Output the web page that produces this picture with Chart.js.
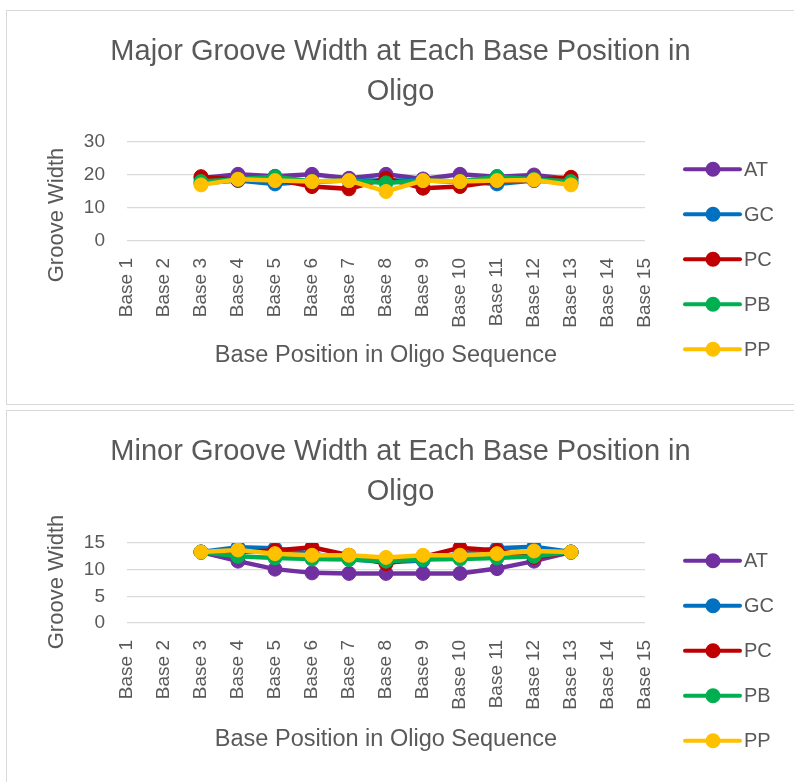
<!DOCTYPE html>
<html>
<head>
<meta charset="utf-8">
<script src="https://cdn.jsdelivr.net/npm/chart.js@4/dist/chart.umd.min.js"></script>
<style>
  html, body { margin: 0; padding: 0; background: #fff; }
  body { width: 794px; height: 782px; position: relative; overflow: hidden; }
  canvas { position: absolute; left: 0; }
  #c1 { top: 0; }
  #c2 { top: 405px; }
  .box { position: absolute; left: 6px; width: 800px; border: 1.5px solid #d9d9d9; box-sizing: border-box; pointer-events: none; }
  #b1 { top: 10px; height: 395px; }
  #b2 { top: 410px; height: 400px; }
</style>
</head>
<body>
<canvas id="c1" width="794" height="405"></canvas>
<canvas id="c2" width="794" height="377"></canvas>
<div class="box" id="b1"></div>
<div class="box" id="b2"></div>
<script>
const labels = ["Base 1", "Base 2", "Base 3", "Base 4", "Base 5", "Base 6", "Base 7", "Base 8",
  "Base 9", "Base 10", "Base 11", "Base 12", "Base 13", "Base 14", "Base 15"];
const seriesNames = ["AT", "GC", "PC", "PB", "PP"];
const seriesColors = ["#7030A0", "#0070C0", "#C00000", "#00B050", "#FFC000"];

// major groove width
const majorAT = [null, null, 19.0, 20.2, 19.6, 20.2, 19.0, 20.2, 18.8, 20.2, 19.5, 20.0, 18.8, null, null];
const majorGC = [null, null, 17.5, 18.3, 17.3, 18.0, 18.3, 18.3, 18.3, 18.0, 17.3, 18.3, 17.5, null, null];
const majorPC = [null, null, 19.5, 18.5, 18.7, 16.5, 15.8, 19.0, 16.0, 16.5, 18.2, 18.5, 19.3, null, null];
const majorPB = [null, null, 18.0, 18.7, 19.5, 18.0, 18.3, 17.6, 18.3, 18.0, 19.5, 18.7, 18.0, null, null];
const majorPP = [null, null, 17.0, 18.7, 18.3, 18.0, 18.3, 15.0, 18.3, 18.0, 18.3, 18.5, 17.0, null, null];

// minor groove width
const minorAT = [null, null, 13.3, 11.6, 10.1, 9.4, 9.3, 9.3, 9.3, 9.3, 10.2, 11.6, 13.3, null, null];
const minorGC = [null, null, 13.3, 14.2, 14.0, 13.0, 12.0, 11.4, 11.7, 13.0, 14.0, 14.3, 13.3, null, null];
const minorPC = [null, null, 13.3, 13.3, 13.6, 14.2, 12.7, 11.1, 12.4, 14.1, 13.6, 12.3, 13.3, null, null];
const minorPB = [null, null, 13.3, 12.5, 12.2, 12.0, 11.9, 11.6, 11.9, 12.0, 12.2, 12.5, 13.3, null, null];
const minorPP = [null, null, 13.3, 13.7, 13.0, 12.7, 12.7, 12.3, 12.7, 12.7, 13.0, 13.5, 13.3, null, null];

const majorTicks = { max: 30, step: 10 };
const minorTicks = { max: 15, step: 5 };

const FONT = "'Liberation Sans', Arial, sans-serif";
const TEXT = "#595959";
const GRID = "#d9d9d9";

Chart.defaults.font.family = FONT;
Chart.defaults.color = TEXT;

// legend with line + marker, plus the rotated y title
const sideDecor = {
  id: "sideDecor",
  afterDraw(chart, args, opts) {
    const ctx = chart.ctx;
    ctx.save();
    ctx.font = `20px ${FONT}`;
    ctx.textBaseline = "middle";
    chart.data.datasets.forEach((ds, i) => {
      const y = opts.legendTop + i * opts.legendGap;
      const x = opts.legendLeft;
      ctx.strokeStyle = ds.borderColor;
      ctx.lineWidth = 4;
      ctx.lineCap = "round";
      ctx.beginPath();
      ctx.moveTo(x, y);
      ctx.lineTo(x + 55, y);
      ctx.stroke();
      ctx.fillStyle = ds.borderColor;
      ctx.beginPath();
      ctx.arc(x + 28, y, 7.5, 0, Math.PI * 2);
      ctx.fill();
      ctx.fillStyle = TEXT;
      ctx.textAlign = "left";
      ctx.fillText(ds.label, x + 59, y + 1);
    });
    ctx.font = `22px ${FONT}`;
    ctx.textAlign = "center";
    ctx.translate(opts.titleX, opts.titleY);
    ctx.rotate(-Math.PI / 2);
    ctx.fillText("Groove Width", 0, 0);
    ctx.restore();
  }
};

function buildDatasets(values) {
  return values.map((data, i) => ({
    label: seriesNames[i],
    data,
    borderColor: seriesColors[i],
    backgroundColor: seriesColors[i],
    pointBackgroundColor: seriesColors[i],
    pointBorderColor: seriesColors[i],
    borderWidth: 4.5,
    pointRadius: 7,
    pointBorderWidth: 1,
    tension: 0,
    spanGaps: false,
    order: values.length - i
  }));
}

function makeChart(id, titleLines, values, ticks, lay) {
  return new Chart(document.getElementById(id), {
    type: "line",
    data: { labels, datasets: buildDatasets(values) },
    options: {
      responsive: false,
      animation: false,
      devicePixelRatio: 1,
      layout: { padding: { left: 7, right: 0, top: 0, bottom: 0 } },
      plugins: {
        legend: { display: false },
        tooltip: { enabled: false },
        title: {
          display: true,
          text: titleLines,
          color: TEXT,
          font: { size: 29, weight: "normal", lineHeight: "40px" },
          padding: { top: lay.titleTop, bottom: lay.titleBottom }
        },
        sideDecor: {
          legendLeft: 685, legendTop: lay.legendTop, legendGap: 45,
          titleX: 57, titleY: lay.yTitleY
        }
      },
      scales: {
        x: {
          type: "category",
          grid: { display: false, drawTicks: false },
          border: { display: false },
          ticks: { autoSkip: false, maxRotation: 90, minRotation: 90, padding: 17, font: { size: 19 } },
          title: {
            display: true,
            text: "Base Position in Oligo Sequence",
            font: { size: 23.5 },
            padding: { top: 0, bottom: lay.xTitleBottom }
          },
          afterFit: s => { s.height = lay.xHeight; }
        },
        y: {
          position: "left",
          min: 0,
          max: ticks.max,
          grid: { color: GRID, lineWidth: 1.3, drawTicks: false },
          border: { display: false },
          ticks: { stepSize: ticks.step, padding: 22, font: { size: 19 } },
          afterFit: s => { s.width = 120; }
        },
        legendSpace: {
          type: "linear",
          position: "right",
          display: true,
          grid: { display: false, drawTicks: false },
          border: { display: false },
          ticks: { display: false },
          afterFit: s => { s.width = 149; }
        }
      }
    },
    plugins: [sideDecor]
  });
}

makeChart("c1", ["Major Groove Width at Each Base Position in", "Oligo"],
  [majorAT, majorGC, majorPC, majorPB, majorPP], majorTicks,
  { titleTop: 32, titleBottom: 30, xHeight: 164, xTitleBottom: 35, legendTop: 169.3, yTitleY: 215 });

makeChart("c2", ["Minor Groove Width at Each Base Position in", "Oligo"],
  [minorAT, minorGC, minorPC, minorPB, minorPP], minorTicks,
  { titleTop: 27, titleBottom: 31, xHeight: 159, xTitleBottom: 28, legendTop: 155.7, yTitleY: 177 });
</script>
</body>
</html>
